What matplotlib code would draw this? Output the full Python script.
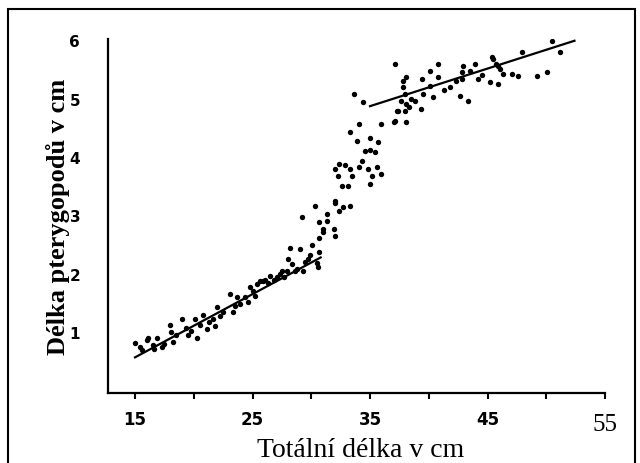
import matplotlib.pyplot as plt
from matplotlib.patches import Rectangle

# data (total length cm, clasper length cm)
delka_x = [15.0, 15.4, 15.6, 16.0, 16.1, 16.5, 16.6, 16.9, 17.3, 17.5, 18.0, 18.1, 18.2, 18.5,
           19.0, 19.3, 19.5, 19.8, 20.1, 20.3, 20.5, 20.8, 21.1, 21.3, 21.6, 21.8, 22.0, 22.2,
           22.5, 23.1, 23.3, 23.5, 23.7, 23.9, 24.4, 24.6, 24.8, 25.0, 25.2, 25.4, 25.6, 25.9,
           26.1, 26.3, 26.5, 26.8, 27.1, 27.3, 27.5, 27.7, 27.9, 28.0, 28.2, 28.4, 28.6, 28.8,
           29.0, 29.2, 29.3, 29.5, 29.7, 29.9, 30.1, 30.3, 30.5, 30.6, 30.7, 30.7, 30.7, 31.0,
           31.0, 31.3, 31.3, 31.9, 32.0, 32.0, 32.4, 32.0, 33.3, 32.7,
           32.0, 32.4, 32.9, 33.3, 33.5, 32.3, 32.6, 33.1,
           33.3, 33.6, 33.9, 34.1, 34.1, 34.3, 34.4, 34.6, 34.8, 35.0, 35.0, 35.0, 35.2, 35.4,
           35.6, 35.7, 35.9, 35.9,
           37.0, 37.1, 37.1, 37.3, 37.4, 37.6, 37.8, 37.8, 38.0, 38.0, 38.1, 38.1, 38.1, 38.3,
           38.5, 38.8, 39.3, 39.4, 39.5, 40.1, 40.1, 40.4, 40.8, 40.8, 41.3, 41.8, 42.3, 42.7,
           42.8, 42.8, 42.9, 43.3, 43.5, 43.9, 44.2, 44.5, 45.2, 45.4, 45.5, 45.7, 45.9, 45.9,
           46.1, 46.3, 47.1, 47.6, 47.9, 49.2, 50.1, 50.5, 51.2]
delka_y = [0.82, 0.74, 0.70, 0.87, 0.91, 0.79, 0.72, 0.91, 0.74, 0.80, 1.13, 1.01, 0.84, 0.95,
           1.22, 1.08, 0.96, 1.02, 1.22, 0.91, 1.13, 1.30, 1.05, 1.18, 1.22, 1.10, 1.44, 1.28,
           1.34, 1.65, 1.34, 1.45, 1.61, 1.48, 1.60, 1.52, 1.77, 1.70, 1.62, 1.82, 1.87, 1.87,
           1.90, 1.84, 1.96, 1.90, 1.94, 1.99, 2.04, 1.95, 2.04, 2.25, 2.45, 2.16, 2.05, 2.08,
           2.42, 2.98, 2.04, 2.20, 2.25, 2.33, 2.50, 3.16, 2.19, 2.11, 2.62, 2.37, 2.88, 2.76,
           2.71, 3.02, 2.90, 2.76, 2.64, 3.22, 3.07, 3.24, 3.16, 3.14,
           3.79, 3.88, 3.86, 3.79, 3.67, 3.67, 3.50, 3.50,
           4.42, 5.08, 4.27, 4.56, 3.83, 3.93, 4.94, 4.10, 3.79, 4.32, 3.53, 4.12, 3.67, 4.08,
           3.83, 4.25, 3.71, 4.56,
           4.60, 4.61, 5.59, 4.78, 4.78, 4.96, 5.30, 5.20, 5.08, 4.78, 4.60, 4.90, 5.37, 4.85,
           5.00, 4.96, 4.82, 5.33, 5.08, 5.47, 5.21, 5.03, 5.59, 5.37, 5.15, 5.20, 5.30, 5.04,
           5.45, 5.33, 5.56, 4.96, 5.47, 5.59, 5.33, 5.40, 5.28, 5.72, 5.68, 5.60, 5.25, 5.55,
           5.50, 5.42, 5.42, 5.39, 5.80, 5.39, 5.45, 5.99, 5.80]

# the two fitted lines (end points)
linie1_x = [15.0, 30.8]
linie1_y = [0.57, 2.28]
linie2_x = [35.0, 52.4]
linie2_y = [4.87, 5.99]

x_ticks = [15, 20, 25, 30, 35, 40, 45, 50, 55]
x_labels = ['15', '', '25', '', '35', '', '45', '', '']
y_ticks = [1, 2, 3, 4, 5, 6]
y_labels = ['1', '2', '3', '4', '5', '6']

fig = plt.figure(figsize=(6.4, 4.64), dpi=100)
ax = fig.add_axes([108/640, 1 - 394/464, 497/640, 354/464])

ax.scatter(delka_x, delka_y, s=15, color='black', linewidths=0)
ax.plot(linie1_x, linie1_y, color='black', lw=1.6)
ax.plot(linie2_x, linie2_y, color='black', lw=1.6)

ax.set_xlim(12.7, 55.0)
ax.set_ylim(-0.04, 6.02)

for s in ['top', 'right']:
    ax.spines[s].set_visible(False)
for s in ['left', 'bottom']:
    ax.spines[s].set_linewidth(1.6)

ax.set_xticks(x_ticks)
ax.set_xticklabels(x_labels, fontsize=12, fontweight='bold', family='DejaVu Sans')
ax.set_yticks(y_ticks)
ax.set_yticklabels(y_labels, fontsize=11, fontweight='bold', family='DejaVu Sans')
ax.tick_params(axis='x', length=4, width=1.5, pad=8)
ax.tick_params(axis='y', length=0, pad=20)

# "55" is set in a different (larger serif) font in the original
ax.text(55, -0.088, '55', transform=ax.get_xaxis_transform(), ha='center', va='center',
        family='Liberation Serif', fontsize=18)

ax.set_xlabel('Totální délka v cm', family='Liberation Serif', fontsize=20, va='top')
ax.xaxis.set_label_coords(0.509, -0.125)
ax.set_ylabel('Délka pterygopodů v cm', family='Liberation Serif', fontweight='bold',
              fontsize=19)
ax.yaxis.set_label_coords(-0.077, 0.5)

# frame around the whole picture
fig.patches.append(Rectangle((8/640, -0.1), 627/640, 1.1 - 10/464, transform=fig.transFigure,
                             fill=False, edgecolor='black', lw=1.5))

fig.savefig('out.png', dpi=100)
